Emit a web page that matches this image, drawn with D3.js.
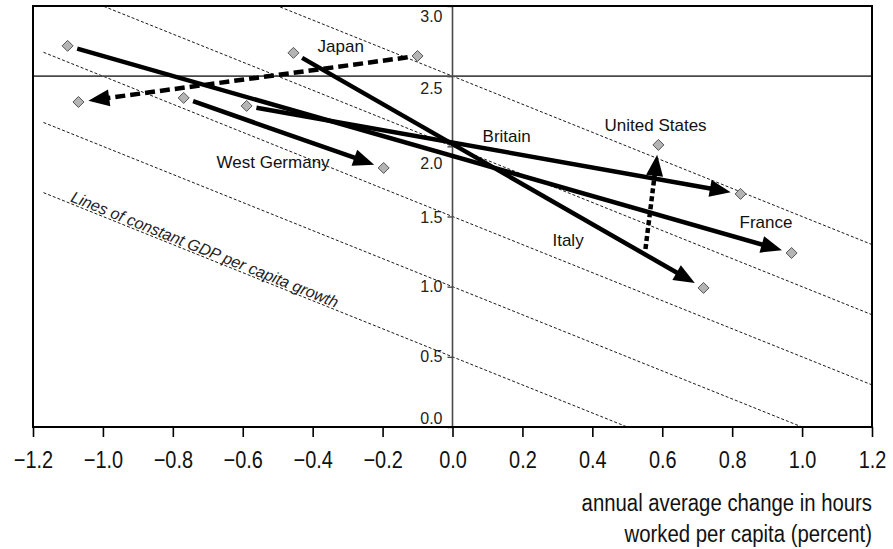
<!DOCTYPE html>
<html><head><meta charset="utf-8">
<script src="https://cdn.jsdelivr.net/npm/d3@7"></script>
<style>
html,body{margin:0;padding:0;background:#fff;}
svg{display:block;}
</style></head>
<body>
<svg id="chart" width="893" height="549"></svg>
<script>
// ---- data ----
const countries = ["France", "Italy", "Japan", "West Germany", "Britain", "United States"];
const startX = [-1.101, -0.455, -0.100, -0.769, -0.589, 0.552];
const startY = [2.716, 2.666, 2.644, 2.345, 2.288, 1.269];
const endX   = [0.970, 0.718, -1.070, -0.197, 0.824, 0.589];
const endY   = [1.240, 0.991, 2.316, 1.846, 1.661, 2.010];
const lineStyle = ["solid", "solid", "dashed", "solid", "solid", "dotted"];
const hasStartMarker = [true, true, true, true, true, false];
const labelX = [0.821, 0.286, -0.386, -0.675, 0.086, 0.435];
const labelY = [1.418, 1.290, 2.673, 1.846, 2.031, 2.110];
const constantGrowth = [0.5, 1.0, 1.5, 2.0, 2.5];
const xTicks = [-1.2, -1.0, -0.8, -0.6, -0.4, -0.2, 0.0, 0.2, 0.4, 0.6, 0.8, 1.0, 1.2];
const yTicks = [0.0, 0.5, 1.0, 1.5, 2.0, 2.5, 3.0];
const referenceY = 2.5;

// ---- layout ----
const W = 893, H = 549;
const m = {left: 33, right: 21, top: 6, bottom: 122};
const x = d3.scaleLinear().domain([-1.2, 1.2]).range([m.left, W - m.right]);
const y = d3.scaleLinear().domain([0, 3.0]).range([H - m.bottom, m.top]);
const svg = d3.select("#chart");
const FONT = "'Liberation Sans', Arial, Helvetica, sans-serif";
const NARROW_SCALE = 0.83;

svg.append("defs").append("clipPath").attr("id", "plot")
  .append("rect").attr("x", m.left).attr("y", m.top)
  .attr("width", x(1.2) - x(-1.2)).attr("height", y(0) - y(3));

// constant GDP per capita growth lines: y = c - x
const gl = svg.append("g").attr("clip-path", "url(#plot)");
gl.selectAll("line.cg").data(constantGrowth).join("line")
  .attr("x1", x(-1.17)).attr("y1", c => y(c + 1.17))
  .attr("x2", x(1.2)).attr("y2", c => y(c - 1.2))
  .attr("stroke", "#000").attr("stroke-width", 0.9).attr("stroke-dasharray", "3,2");

// reference horizontal line and vertical y axis line
svg.append("line").attr("x1", x(-1.2)).attr("x2", x(1.2))
  .attr("y1", y(referenceY)).attr("y2", y(referenceY))
  .attr("stroke", "#4a4a4a").attr("stroke-width", 1.6);
svg.append("line").attr("x1", x(0)).attr("x2", x(0))
  .attr("y1", y(0)).attr("y2", y(3))
  .attr("stroke", "#4a4a4a").attr("stroke-width", 1.6);

// y axis
const yLabelShift = {"0.0": -9, "0.5": -1, "1.0": -1, "1.5": 0, "2.0": 17, "2.5": 12, "3.0": 10};
const yAxis = svg.append("g").attr("transform", `translate(${x(0)},0)`)
  .call(d3.axisLeft(y).tickValues(yTicks).tickSize(5).tickPadding(5).tickFormat(d3.format(".1f")));
yAxis.select(".domain").remove();
yAxis.selectAll(".tick line").attr("stroke", "#4a4a4a").attr("stroke-width", 1.4);
yAxis.selectAll(".tick text")
  .attr("font-family", FONT).attr("font-size", 16).attr("fill", "#222")
  .attr("dy", function(d){ return (yLabelShift[d3.format(".1f")(d)] + 5.5) + "px"; });

// x axis
const xAxis = svg.append("g").attr("transform", `translate(0,${y(0)})`)
  .call(d3.axisBottom(x).tickValues(xTicks).tickSize(10).tickPadding(14).tickFormat(d3.format(".1f")));
xAxis.select(".domain").remove();
xAxis.selectAll(".tick line").attr("stroke", "#000").attr("stroke-width", 1.6);
xAxis.selectAll(".tick text").attr("font-family", FONT).attr("font-size", 24).attr("fill", "#111")
  .attr("transform", `scale(${NARROW_SCALE},1)`);

// frame
svg.append("rect").attr("x", x(-1.2)).attr("y", y(3))
  .attr("width", x(1.2) - x(-1.2)).attr("height", y(0) - y(3))
  .attr("fill", "none").attr("stroke", "#000").attr("stroke-width", 2);

// annotation along the growth line
const annX = -1.095, annC = 0.5;
const ang = Math.atan2(y(annC - 1) - y(annC), x(1) - x(0)) * 180 / Math.PI;
svg.append("text")
  .attr("transform", `translate(${x(annX)},${y(annC - annX) - 2}) rotate(${ang})`)
  .attr("font-family", FONT).attr("font-style", "italic").attr("font-size", 16).attr("fill", "#222")
  .text("Lines of constant GDP per capita growth");

// arrows
const rows = countries.map((c, i) => ({
  name: c, x0: startX[i], y0: startY[i], x1: endX[i], y1: endY[i],
  style: lineStyle[i], startMark: hasStartMarker[i], lx: labelX[i], ly: labelY[i]
}));
const dash = {solid: null, dashed: "10,5", dotted: "5,3"};
const ag = svg.append("g");
rows.forEach(r => {
  const px0 = x(r.x0), py0 = y(r.y0), px1 = x(r.x1), py1 = y(r.y1);
  const dx = px1 - px0, dy = py1 - py0, L = Math.hypot(dx, dy);
  const ux = dx / L, uy = dy / L;
  const g0 = r.startMark ? 10 : 0, g1 = 10, head = 21;
  const sx = px0 + ux * g0, sy = py0 + uy * g0;
  const tx = px1 - ux * g1, ty = py1 - uy * g1;
  ag.append("line")
    .attr("x1", sx).attr("y1", sy)
    .attr("x2", tx - ux * (head - 3)).attr("y2", ty - uy * (head - 3))
    .attr("stroke", "#000").attr("stroke-width", 4.5)
    .attr("stroke-dasharray", dash[r.style]);
  const a = Math.atan2(uy, ux) * 180 / Math.PI;
  ag.append("path")
    .attr("d", `M0,0L${-head},-8.5L${-head},8.5Z`)
    .attr("transform", `translate(${tx},${ty}) rotate(${a})`)
    .attr("fill", "#000");
});

// diamonds
const diamond = "M0,-5.5L5.5,0L0,5.5L-5.5,0Z";
const pts = [];
rows.forEach(r => { if (r.startMark) pts.push([r.x0, r.y0]); pts.push([r.x1, r.y1]); });
svg.append("g").selectAll("path").data(pts).join("path")
  .attr("d", diamond)
  .attr("transform", d => `translate(${x(d[0])},${y(d[1])})`)
  .attr("fill", "#b4b4b4").attr("stroke", "#555").attr("stroke-width", 1);

// country labels
svg.append("g").selectAll("text").data(rows).join("text")
  .attr("x", d => x(d.lx)).attr("y", d => y(d.ly))
  .attr("font-family", FONT).attr("font-size", 17).attr("fill", "#111")
  .text(d => d.name);

// x axis title
const tt = svg.append("text").attr("text-anchor", "end")
  .attr("transform", `translate(${x(1.2)},0) scale(${NARROW_SCALE},1)`)
  .attr("font-family", FONT).attr("font-size", 24.5).attr("fill", "#111");
tt.append("tspan").attr("x", 0).attr("y", 511).text("annual average change in hours");
tt.append("tspan").attr("x", 0).attr("y", 542).text("worked per capita (percent)");
</script>
</body></html>
